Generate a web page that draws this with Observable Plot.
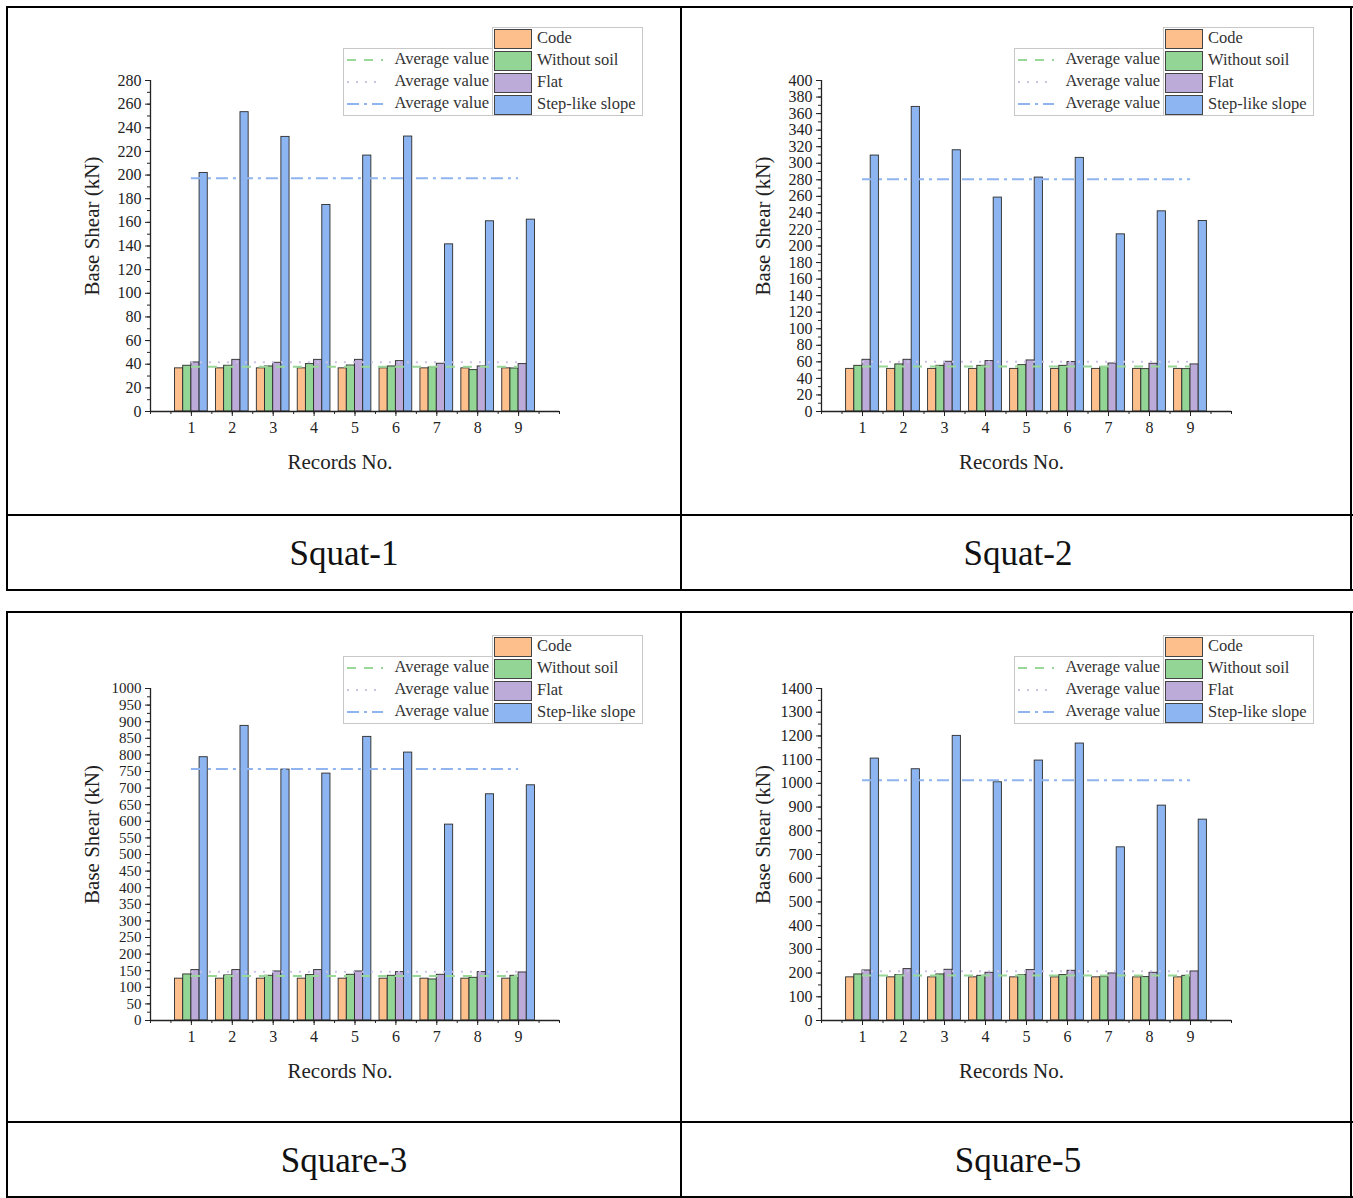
<!DOCTYPE html>
<html><head><meta charset="utf-8">
<script src="https://cdn.jsdelivr.net/npm/d3@7"></script>
<script src="https://cdn.jsdelivr.net/npm/@observablehq/plot@0.6"></script>
<style>
html,body{margin:0;padding:0;background:#fff;}
#page{position:relative;width:1353px;height:1198px;overflow:hidden;font-family:"Liberation Serif","Times New Roman",serif;}
#page svg text{font-family:"Liberation Serif","Times New Roman",serif;}
.abs{position:absolute;}
.hline{position:absolute;height:2px;background:#000;}
.vline{position:absolute;width:2px;background:#000;}
.caption{position:absolute;text-align:center;font-size:35px;color:#111;line-height:1;font-family:"Liberation Serif",serif;}
.legbox{position:absolute;border:1px solid #c8c8c8;background:#fff;box-sizing:border-box;}
.legrow{position:absolute;left:0;right:0;height:22px;font-size:16.5px;color:#333;line-height:22px;font-family:"Liberation Serif",serif;white-space:nowrap;}
</style></head>
<body><div id="page"></div>
<script>
// ---------- data ----------
const records = [1, 2, 3, 4, 5, 6, 7, 8, 9];
const seriesNames = ["Code", "Without soil", "Flat", "Step-like slope"];
const seriesColors = ["#FDBF8C", "#93D594", "#BCAAD8", "#8DB5F1"];

const squat1Code        = [36.5, 36.5, 36.5, 36.5, 36.5, 36.5, 36.5, 36.5, 36.5];
const squat1WithoutSoil = [38.7, 38.7, 38.1, 40.1, 38.9, 38.1, 37.3, 35.0, 36.4];
const squat1Flat        = [41.5, 43.7, 41.2, 43.7, 43.7, 42.6, 40.4, 38.1, 40.1];
const squat1Step        = [201.8, 253.2, 232.3, 174.7, 216.5, 232.6, 141.4, 160.9, 162.3];
const squat1YTicks = [0, 20, 40, 60, 80, 100, 120, 140, 160, 180, 200, 220, 240, 260, 280];

const squat2Code        = [51.5, 51.5, 51.5, 51.5, 51.5, 51.5, 51.5, 51.5, 51.5];
const squat2WithoutSoil = [55.2, 56.9, 55.2, 55.2, 56.0, 55.2, 53.6, 51.2, 51.2];
const squat2Flat        = [62.5, 62.5, 60.1, 60.9, 61.7, 59.7, 58.0, 57.7, 56.9];
const squat2Step        = [309.3, 368.1, 315.7, 258.5, 282.7, 306.5, 214.1, 241.9, 230.2];
const squat2YTicks = [0, 20, 40, 60, 80, 100, 120, 140, 160, 180, 200, 220, 240, 260, 280, 300, 320, 340, 360, 380, 400];

const square3Code        = [126, 126, 126, 126, 126, 126, 126, 126, 126];
const square3WithoutSoil = [138.7, 135.7, 134.7, 136.7, 137.7, 134.7, 123.6, 128.6, 134.7];
const square3Flat        = [151.8, 151.8, 147.7, 151.8, 147.7, 145.7, 137.7, 145.7, 144.7];
const square3Step        = [793.0, 887.4, 755.8, 743.7, 854.3, 807.0, 590.0, 681.4, 708.5];
const square3YTicks = [0, 50, 100, 150, 200, 250, 300, 350, 400, 450, 500, 550, 600, 650, 700, 750, 800, 850, 900, 950, 1000];

const square5Code        = [182, 182, 182, 182, 182, 182, 182, 182, 182];
const square5WithoutSoil = [194.2, 191.4, 194.2, 188.5, 191.4, 191.4, 183.0, 183.0, 188.5];
const square5Flat        = [211.0, 216.7, 213.9, 201.2, 212.5, 209.6, 198.4, 201.2, 206.8];
const square5Step        = [1104.5, 1059.5, 1200.2, 1004.6, 1096.1, 1167.9, 730.3, 906.1, 847.0];
const square5YTicks = [0, 100, 200, 300, 400, 500, 600, 700, 800, 900, 1000, 1100, 1200, 1300, 1400];

const xLabelTicks = [1, 2, 3, 4, 5, 6, 7, 8, 9];
const captions = ["Squat-1", "Squat-2", "Square-3", "Square-5"];

// ---------- layout ----------
const barWidth = 0.2;
const barOffsets = [-0.4, -0.2, 0, 0.2];
const avgStyles = [
  {stroke: "#9AD89A", dash: "9,8", width: 2},
  {stroke: "#CBC2E4", dash: "2,7", width: 2},
  {stroke: "#8FB4F0", dash: "12,5,3,5", width: 2}
];

const panels = [
  {caption: captions[0], series: [squat1Code, squat1WithoutSoil, squat1Flat, squat1Step], yTicks: squat1YTicks, minorStep: 10, fs: 16,
   left: 7, top: 7, w: 674, h: 508, m: {l: 143, r: 122, t: 73, b: 104}},
  {caption: captions[1], series: [squat2Code, squat2WithoutSoil, squat2Flat, squat2Step], yTicks: squat2YTicks, minorStep: 10, fs: 16,
   left: 681, top: 7, w: 672, h: 508, m: {l: 140, r: 122, t: 73, b: 104}},
  {caption: captions[2], series: [square3Code, square3WithoutSoil, square3Flat, square3Step], yTicks: square3YTicks, minorStep: 25, fs: 15,
   left: 7, top: 612, w: 674, h: 510, m: {l: 143, r: 122, t: 76, b: 102}},
  {caption: captions[3], series: [square5Code, square5WithoutSoil, square5Flat, square5Step], yTicks: square5YTicks, minorStep: 50, fs: 16,
   left: 681, top: 612, w: 672, h: 510, m: {l: 140, r: 122, t: 76, b: 102}}
];

const page = document.getElementById("page");

function el(tag, cls, style, text) {
  const e = document.createElement(tag);
  if (cls) e.className = cls;
  if (style) Object.assign(e.style, style);
  if (text != null) e.textContent = text;
  return e;
}

for (const p of panels) {
  const yMax = p.yTicks[p.yTicks.length - 1];
  const rows = records.flatMap((r, i) => p.series.map((vals, s) => ({record: r, s, series: seriesNames[s], value: vals[i]})));
  const minor = d3.range(0, yMax + 1e-9, p.minorStep);
  const xMinor = d3.range(0, 10.0001, 0.5);
  const means = [p.series[1], p.series[2], p.series[3]].map(v => d3.mean(v));

  const chart = Plot.plot({
    width: p.w, height: p.h,
    marginLeft: p.m.l, marginRight: p.m.r, marginTop: p.m.t, marginBottom: p.m.b,
    style: "background:transparent;font-family:'Liberation Serif',serif;font-size:16px;color:#222;",
    x: {domain: [0, 10]},
    y: {domain: [0, yMax]},
    color: {domain: seriesNames, range: seriesColors},
    marks: [
      Plot.rectY(rows, {
        x1: d => d.record + barOffsets[d.s],
        x2: d => d.record + barOffsets[d.s] + barWidth,
        y1: 0, y2: "value",
        fill: "series", stroke: "#2b2b2b", strokeWidth: 0.9
      }),
      ...means.map((mv, k) => Plot.ruleY([mv], {
        x1: records[0], x2: records[records.length - 1],
        stroke: avgStyles[k].stroke, strokeWidth: avgStyles[k].width, strokeDasharray: avgStyles[k].dash
      })),
      Plot.axisY({ticks: minor, tickSize: 3, tickFormat: () => "", label: null, stroke: "#222"}),
      Plot.axisY({ticks: p.yTicks, tickSize: 5, tickPadding: 4, tickFormat: d => String(d), label: null, fontSize: p.fs, stroke: "#222", fill: "#222"}),
      Plot.axisX({ticks: xMinor, tickSize: 3, tickFormat: () => "", label: null, stroke: "#222"}),
      Plot.axisX({ticks: xLabelTicks, tickSize: 5, tickPadding: 5, tickFormat: d => String(d), label: null, fontSize: 16, stroke: "#222", fill: "#222"}),
      Plot.ruleX([0], {stroke: "#222", strokeWidth: 1.3}),
      Plot.ruleY([0], {stroke: "#222", strokeWidth: 1.3}),
      Plot.text(["Base Shear (kN)"], {frameAnchor: "left", textAnchor: "middle", rotate: -90, dx: -58, dy: -20, fontSize: 21, fill: "#222"}),
      Plot.text(["Records No."], {frameAnchor: "bottom", dx: -15, dy: 57, fontSize: 21, fill: "#222"})
    ]
  });
  const holder = el("div", "abs", {left: p.left + "px", top: p.top + "px", width: p.w + "px", height: p.h + "px"});
  holder.appendChild(chart);
  page.appendChild(holder);

  // legend
  const fx = p.left + p.m.l, fy = p.top + p.m.t;
  const rbox = el("div", "legbox", {left: (fx + 342) + "px", top: (fy - 53) + "px", width: "151px", height: "89px"});
  seriesNames.forEach((name, i) => {
    const row = el("div", "legrow", {top: (i * 22) + "px"});
    row.appendChild(el("div", "abs", {left: "1px", top: "1px", width: "36px", height: "18px", background: seriesColors[i], border: "1.5px solid #444"}));
    row.appendChild(el("div", "abs", {left: "44px", top: "-1px"}, name));
    rbox.appendChild(row);
  });
  const lbox = el("div", "legbox", {left: (fx + 193) + "px", top: (fy - 32) + "px", width: "150px", height: "68px"});
  avgStyles.forEach((st, i) => {
    const row = el("div", "legrow", {top: (i * 22) + "px"});
    const svgNS = "http://www.w3.org/2000/svg";
    const svg = document.createElementNS(svgNS, "svg");
    svg.setAttribute("width", "40"); svg.setAttribute("height", "22");
    svg.style.position = "absolute"; svg.style.left = "2px"; svg.style.top = "0px";
    const ln = document.createElementNS(svgNS, "line");
    ln.setAttribute("x1", "1"); ln.setAttribute("x2", "37"); ln.setAttribute("y1", "11"); ln.setAttribute("y2", "11");
    ln.setAttribute("stroke", st.stroke); ln.setAttribute("stroke-width", st.width); ln.setAttribute("stroke-dasharray", st.dash);
    svg.appendChild(ln);
    row.appendChild(svg);
    row.appendChild(el("div", "abs", {right: "3px", top: "-1px"}, "Average value"));
    lbox.appendChild(row);
  });
  page.appendChild(lbox);
  page.appendChild(rbox);
}

// table borders
const hl = [[6, 6, 1347], [514, 6, 1347], [589, 6, 1347], [611, 6, 1347], [1121, 6, 1347], [1196, 6, 1347]];
hl.forEach(([y, x, w]) => page.appendChild(el("div", "hline", {top: y + "px", left: x + "px", width: w + "px"})));
const vl = [[6, 6, 585], [680, 6, 585], [1350, 6, 585], [6, 611, 590], [680, 611, 590], [1350, 611, 590]];
vl.forEach(([x, y, h]) => page.appendChild(el("div", "vline", {left: x + "px", top: y + "px", height: h + "px"})));

// captions
const capPos = [[7, 516], [681, 516], [7, 1123], [681, 1123]];
captions.forEach((c, i) => {
  const [x, y] = capPos[i];
  page.appendChild(el("div", "caption", {left: x + "px", top: (y + 20) + "px", width: "674px"}, c));
});
</script>
</body></html>
